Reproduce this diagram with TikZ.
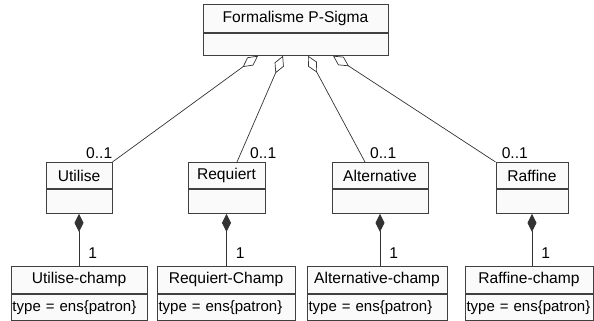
\documentclass[tikz,border=0pt]{standalone}
\usepackage{fontspec}
\setmainfont{Liberation Sans}
\usepackage{tikz}
\usetikzlibrary{arrows.meta,positioning}

\begin{document}
\begin{tikzpicture}[x=1pt, y=-1pt, font=\fontsize{15.6}{18}\selectfont,
    boite/.style={draw=black!75, fill=black!2, line width=0.9pt, inner sep=0pt, anchor=north},
    mult/.style={inner sep=0pt},
    agreg/.style={draw=black!80, line width=0.7pt, arrows={Diamond[open,length=19pt,width=10pt]-}},
    compo/.style={draw=black!80, line width=0.7pt, arrows={Diamond[length=18pt,width=9pt]-}}]
  \useasboundingbox (0,0) rectangle (594,321);

  % classe du haut
  \node[boite, minimum width=185pt, minimum height=28pt] (psigma) at (295.5,4) {Formalisme P-Sigma};
  \node[boite, minimum width=185pt, minimum height=22pt] (psigma-b) at (psigma.south) {};

  % classes du milieu et du bas
  \foreach \nom/\txt/\x/\w/\txtc/\xc/\wc in {utilise/Utilise/79/66/Utilise-champ/79/136,
      requiert/Requiert/226.5/77/Requiert-Champ/226/138,
      alternative/Alternative/380/96/Alternative-champ/377/140,
      raffine/Raffine/532/72/Raffine-champ/529/128}{
    \node[boite, minimum width=\w pt, minimum height=26pt] (\nom) at (\x,162) {\txt};
    \node[boite, minimum width=\w pt, minimum height=24pt] (\nom-b) at (\nom.south) {};
    \pgfmathsetmacro\tw{\wc-3}
    \node[boite, minimum width=\wc pt, minimum height=27pt] (\nom-champ) at (\xc,266) {\txtc};
    \node[boite, inner xsep=1.5pt, text width=\tw pt, align=left, minimum height=26pt,
      font=\fontsize{15}{18}\selectfont]
      (\nom-champ-b) at (\nom-champ.south) {type~=~ens\{patron\}};
    \draw[compo] (\nom-b.south) -- (\nom-b.south |- \nom-champ.north)
      node[mult, pos=0.76, right=9pt] {1};
  }

  % agregations
  \draw[agreg] ([xshift=-37.5pt]psigma-b.south) -- (utilise.north east);
  \draw[agreg] ([xshift=-12.5pt]psigma-b.south) -- ([xshift=10.5pt]requiert.north);
  \draw[agreg] ([xshift=12.5pt]psigma-b.south) -- ([xshift=-15pt]alternative.north);
  \draw[agreg] ([xshift=37.5pt]psigma-b.south) -- (raffine.north west);
  \node[mult, anchor=base east] at ([yshift=4pt]utilise.north east) {0..1};
  \node[mult, anchor=base west] at ([xshift=23.5pt,yshift=4pt]requiert.north) {0..1};
  \node[mult, anchor=base west] at ([xshift=-10pt,yshift=4pt]alternative.north) {0..1};
  \node[mult, anchor=base west] at ([xshift=6pt,yshift=4pt]raffine.north west) {0..1};
\end{tikzpicture}
\end{document}
